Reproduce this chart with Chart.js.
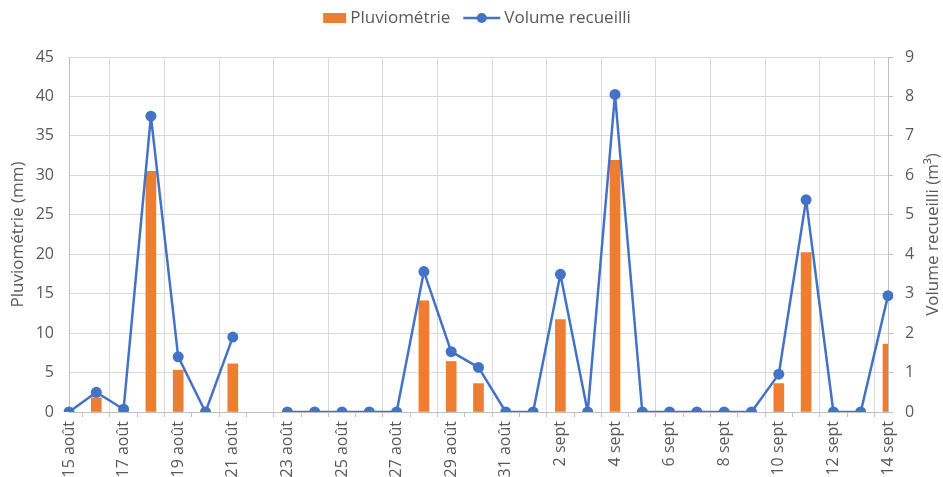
<!DOCTYPE html>
<html lang="fr">
<head>
<meta charset="utf-8">
<script src="https://cdn.jsdelivr.net/npm/chart.js@4/dist/chart.umd.min.js"></script>
<style>
  html, body { margin: 0; padding: 0; background: #fff; }
  #wrap { width: 943px; height: 477px; position: relative; }
</style>
</head>
<body>
<div id="wrap"><canvas id="chart"></canvas></div>
<script>
// One entry per day, 15 août -> 14 sept
const days = [
  '15 août', '16 août', '17 août', '18 août', '19 août', '20 août', '21 août', '22 août',
  '23 août', '24 août', '25 août', '26 août', '27 août', '28 août', '29 août', '30 août',
  '31 août', '1 sept', '2 sept', '3 sept', '4 sept', '5 sept', '6 sept', '7 sept',
  '8 sept', '9 sept', '10 sept', '11 sept', '12 sept', '13 sept', '14 sept'
];
// Pluviométrie (mm), left axis — 22 août missing
const rainfall = [
  0, 1.8, 0, 30.5, 5.3, 0, 6.1, null,
  0, 0, 0, 0, 0, 14.1, 6.4, 3.6,
  0, 0, 11.7, 0, 31.9, 0, 0, 0,
  0, 0, 3.6, 20.2, 0, 0, 8.6
];
// Volume recueilli (m³), right axis — 22 août missing
const volume = [
  0, 0.5, 0.07, 7.5, 1.4, 0, 1.9, null,
  0, 0, 0, 0, 0, 3.56, 1.53, 1.13,
  0, 0, 3.49, 0, 8.05, 0, 0, 0,
  0, 0, 0.96, 5.38, 0, 0, 2.95
];

const leftTicks = { min: 0, max: 45, step: 5 };
const rightTicks = { min: 0, max: 9, step: 1 };

const ORANGE = '#ED7D31';
const BLUE = '#4472C4';
const GREY_TXT = '#595959';
const GRID = '#d9d9d9';
const AXIS = '#bfbfbf';
const FONT = '"Open Sans", "Liberation Sans", sans-serif';

// legend drawn by hand so the line entry can show line + marker
const topLegend = {
  id: 'topLegend',
  afterDraw(chart) {
    const ctx = chart.ctx;
    ctx.save();
    ctx.font = '17px ' + FONT;
    ctx.textBaseline = 'middle';
    const items = [
      { text: 'Pluviométrie', kind: 'bar', mark: 23 },
      { text: 'Volume recueilli', kind: 'line', mark: 37 },
    ];
    const gap = 4, between = 13;
    let total = 0;
    items.forEach((it, i) => {
      it.w = ctx.measureText(it.text).width;
      total += it.mark + gap + it.w + (i ? between : 0);
    });
    let x = 477 - total / 2;
    const y = 18;
    items.forEach(it => {
      if (it.kind === 'bar') {
        ctx.fillStyle = ORANGE;
        ctx.fillRect(x, y - 5, it.mark, 10);
      } else {
        ctx.strokeStyle = BLUE;
        ctx.lineWidth = 2.5;
        ctx.beginPath();
        ctx.moveTo(x, y);
        ctx.lineTo(x + it.mark, y);
        ctx.stroke();
        ctx.fillStyle = BLUE;
        ctx.beginPath();
        ctx.arc(x + it.mark / 2, y, 5, 0, Math.PI * 2);
        ctx.fill();
      }
      x += it.mark + gap;
      ctx.fillStyle = GREY_TXT;
      ctx.fillText(it.text, x, y);
      x += it.w + between;
    });
    ctx.restore();
  }
};

// right title reads bottom-to-top like the left one
const rightTitle = {
  id: 'rightTitle',
  afterDraw(chart) {
    const { ctx, chartArea } = chart;
    ctx.save();
    ctx.translate(933, (chartArea.top + chartArea.bottom) / 2);
    ctx.rotate(-Math.PI / 2);
    ctx.font = '17px ' + FONT;
    ctx.fillStyle = GREY_TXT;
    ctx.textAlign = 'center';
    ctx.textBaseline = 'middle';
    ctx.fillText('Volume recueilli (m³)', 0, 0);
    ctx.restore();
  }
};

new Chart(document.getElementById('chart'), {
  data: {
    labels: days,
    datasets: [
      {
        type: 'bar',
        label: 'Pluviométrie',
        data: rainfall,
        backgroundColor: ORANGE,
        barThickness: 10,
        yAxisID: 'y',
        order: 2,
        clip: 0,
      },
      {
        type: 'line',
        label: 'Volume recueilli',
        data: volume,
        borderColor: BLUE,
        backgroundColor: BLUE,
        borderWidth: 2.5,
        borderJoinStyle: 'round',
        pointRadius: 5.5,
        pointBackgroundColor: BLUE,
        pointBorderWidth: 0,
        tension: 0,
        spanGaps: false,
        yAxisID: 'y1',
        order: 1,
      },
    ],
  },
  options: {
    responsive: true,
    maintainAspectRatio: false,
    animation: false,
    layout: { padding: { top: 57, right: 24, bottom: 0, left: 0 } },
    plugins: {
      legend: { display: false },
      tooltip: { enabled: false },
    },
    scales: {
      x: {
        type: 'category',
        offset: false,
        grid: {
          color: c => (c.index % 2 === 0 ? GRID : 'rgba(0,0,0,0)'),
          tickColor: AXIS,
          tickLength: 5,
          lineWidth: 1,
        },
        border: { color: AXIS },
        ticks: {
          autoSkip: false,
          minRotation: 90,
          maxRotation: 90,
          padding: 4,
          color: GREY_TXT,
          font: { family: FONT, size: 16 },
          callback: (v, i) => (i % 2 === 0 ? days[i] : ''),
        },
        afterFit: s => { s.height = 65; },
      },
      y: {
        position: 'left',
        min: leftTicks.min,
        max: leftTicks.max,
        grid: { color: GRID, drawTicks: false },
        border: { color: AXIS },
        ticks: {
          stepSize: leftTicks.step,
          padding: 15,
          color: GREY_TXT,
          font: { family: FONT, size: 16 },
        },
        title: {
          display: true,
          text: 'Pluviométrie (mm)',
          color: GREY_TXT,
          font: { family: FONT, size: 17 },
          padding: { top: 8, bottom: 0 },
        },
        afterFit: s => { s.width = 69; },
      },
      y1: {
        position: 'right',
        min: rightTicks.min,
        max: rightTicks.max,
        grid: { drawOnChartArea: false, tickColor: AXIS, tickLength: 5 },
        border: { color: AXIS },
        ticks: {
          stepSize: rightTicks.step,
          padding: 12,
          color: GREY_TXT,
          font: { family: FONT, size: 16 },
        },
        afterFit: s => { s.width = 31; },
      },
    },
  },
  plugins: [topLegend, rightTitle],
});
</script>
</body>
</html>
